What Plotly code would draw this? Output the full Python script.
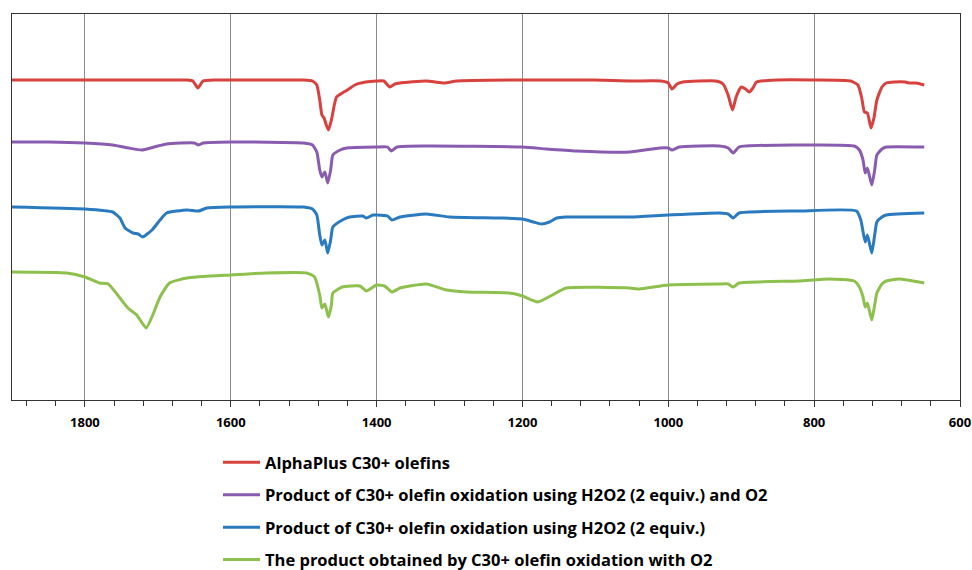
import plotly.graph_objects as go

# Wavenumber (cm-1) and signal (arbitrary offset units) for each spectrum
red_x = [1900, 1800, 1700, 1660, 1652, 1645, 1638, 1620, 1560, 1500, 1488, 1482, 1478, 1475, 1472, 1469, 1466,
         1462, 1458, 1455, 1447, 1438, 1430, 1415, 1400, 1390, 1382, 1375, 1368, 1332, 1307, 1290, 1200, 1100,
         1053, 1010, 1000, 995, 988, 980, 935, 925, 918, 912, 907, 900, 894, 889, 884, 879, 850, 800, 750, 740,
         735, 731, 727, 722, 718, 714, 707, 701, 690, 675, 670, 660, 649]
red_y = [320, 320, 320, 320, 319, 312, 319, 320, 320, 320, 319, 315, 300, 285, 282, 275, 270,
         280, 295, 303, 307, 311, 315, 318, 319, 319, 313, 316, 317, 319, 317, 319, 320, 320,
         319, 319, 317, 311, 316, 318, 319, 316, 305, 290, 303, 313, 311, 308, 312, 318, 320, 320, 319, 315,
         303, 288, 287, 272, 282, 300, 313, 317, 318, 318, 317, 317, 315]

purple_x = [1900, 1850, 1800, 1762, 1740, 1722, 1705, 1688, 1650, 1644, 1638, 1600, 1500, 1488, 1482, 1478,
            1475, 1471, 1467, 1463, 1460, 1450, 1441, 1400, 1385, 1380, 1372, 1332, 1200, 1167, 1126, 1053,
            1012, 1000, 995, 985, 930, 918, 911, 903, 821, 745, 738, 733, 730, 727, 721, 717, 714, 707, 701, 649]
purple_y = [258, 258, 257, 255, 252, 250, 253, 256, 257, 255, 257, 258, 257, 255, 248, 230,
            223, 228, 217, 230, 245, 250, 252, 253, 253, 249, 253, 254, 253, 251, 249, 248,
            252, 252, 250, 253, 254, 252, 247, 253, 255, 254, 250, 240, 227, 232, 215, 230, 245, 251, 253, 253]

blue_x = [1900, 1800, 1762, 1752, 1745, 1734, 1727, 1721, 1708, 1697, 1688, 1660, 1644, 1633, 1600, 1500,
          1488, 1482, 1478, 1475, 1471, 1467, 1463, 1460, 1447, 1437, 1419, 1414, 1405, 1400, 1385, 1379,
          1368, 1332, 1300, 1232, 1200, 1185, 1174, 1163, 1153, 1140, 1053, 1000, 930, 918, 911, 903, 821,
          742, 736, 730, 727, 721, 717, 714, 707, 701, 649]
blue_y = [193, 191, 188, 182, 172, 167, 166, 163, 170, 180, 187, 190, 189, 192, 193, 193,
          191, 185, 165, 155, 160, 147, 160, 173, 180, 183, 184, 182, 185, 185, 184, 180,
          183, 186, 183, 182, 181, 178, 176, 178, 182, 183, 183, 185, 187, 186, 182, 187, 189,
          189, 180, 158, 165, 147, 165, 178, 183, 185, 187]

green_x = [1900, 1825, 1800, 1780, 1768, 1752, 1741, 1729, 1716, 1707, 1697, 1684, 1660, 1601, 1551, 1496,
           1485, 1478, 1475, 1471, 1466, 1462, 1460, 1447, 1423, 1414, 1400, 1389, 1379, 1368, 1332, 1304,
           1277, 1218, 1200, 1179, 1159, 1140, 1053, 1040, 1000, 930, 918, 911, 903, 821, 779, 745, 738, 733,
           730, 727, 721, 717, 714, 707, 701, 684, 649]
green_y = [128, 127, 123, 117, 116, 102, 92, 85, 72, 85, 103, 117, 122, 125, 127, 127,
           123, 105, 92, 96, 83, 95, 107, 113, 114, 109, 115, 114, 108, 112, 116, 110,
           108, 107, 104, 98, 105, 112, 112, 111, 115, 116, 116, 113, 117, 119, 121, 119, 113, 103,
           93, 97, 80, 95, 107, 116, 119, 121, 117]

names = ["AlphaPlus C30+ olefins",
         "Product of C30+ olefin oxidation using H2O2 (2 equiv.) and O2",
         "Product of C30+ olefin oxidation using H2O2 (2 equiv.)",
         "The product obtained by C30+ olefin oxidation with O2"]
colors = ["#D8423E", "#8A5CB0", "#2A7AC0", "#8DC04C"]
xs = [red_x, purple_x, blue_x, green_x]
ys = [red_y, purple_y, blue_y, green_y]

tick_vals = [1800, 1600, 1400, 1200, 1000, 800, 600]
tick_text = ["1800", "1600", "1400", "1200", "1000", "800", "600"]

fig = go.Figure()
for i in range(4):
    fig.add_trace(go.Scatter(x=xs[i], y=ys[i], mode="lines", name=names[i],
                             legendgroup=f"g{i}",
                             line=dict(color=colors[i], width=3, shape="spline", smoothing=0.5)))

font_family = "'Open Sans', Lato, sans-serif"
W, H = 972, 570
fig.update_layout(
    width=W, height=H,
    margin=dict(l=0, r=0, t=0, b=0, autoexpand=False),
    paper_bgcolor="white", plot_bgcolor="white",
    showlegend=True,
    legend=dict(x=218 / W, y=(H - 445) / H, xanchor="left", yanchor="top",
                font=dict(family=font_family, size=16.5, color="black", weight="bold"),
                itemwidth=37,
                tracegroupgap=8, bgcolor="rgba(0,0,0,0)"),
    xaxis=dict(domain=[12 / W, 960 / W], automargin=False,
               range=[1900, 600], tickvals=tick_vals, ticktext=tick_text,
               showgrid=True, gridcolor="#8C8C8C", gridwidth=1,
               showline=True, linecolor="#333333", linewidth=1.2, mirror=True,
               ticks="outside", ticklen=6, tickcolor="#333333",
               minor=dict(dtick=40, tick0=600, ticks="outside", ticklen=5, tickcolor="#333333", showgrid=False),
               tickfont=dict(family=font_family, size=13, color="black", weight="bold"),
               ticklabelstandoff=4,
               zeroline=False),
    yaxis=dict(domain=[(H - 400) / H, (H - 14) / H], automargin=False,
               range=[0, 386], showticklabels=False, showgrid=False, zeroline=False,
               showline=True, linecolor="#333333", linewidth=1.2, mirror=True, ticks=""),
)

fig.write_html("out.html")
